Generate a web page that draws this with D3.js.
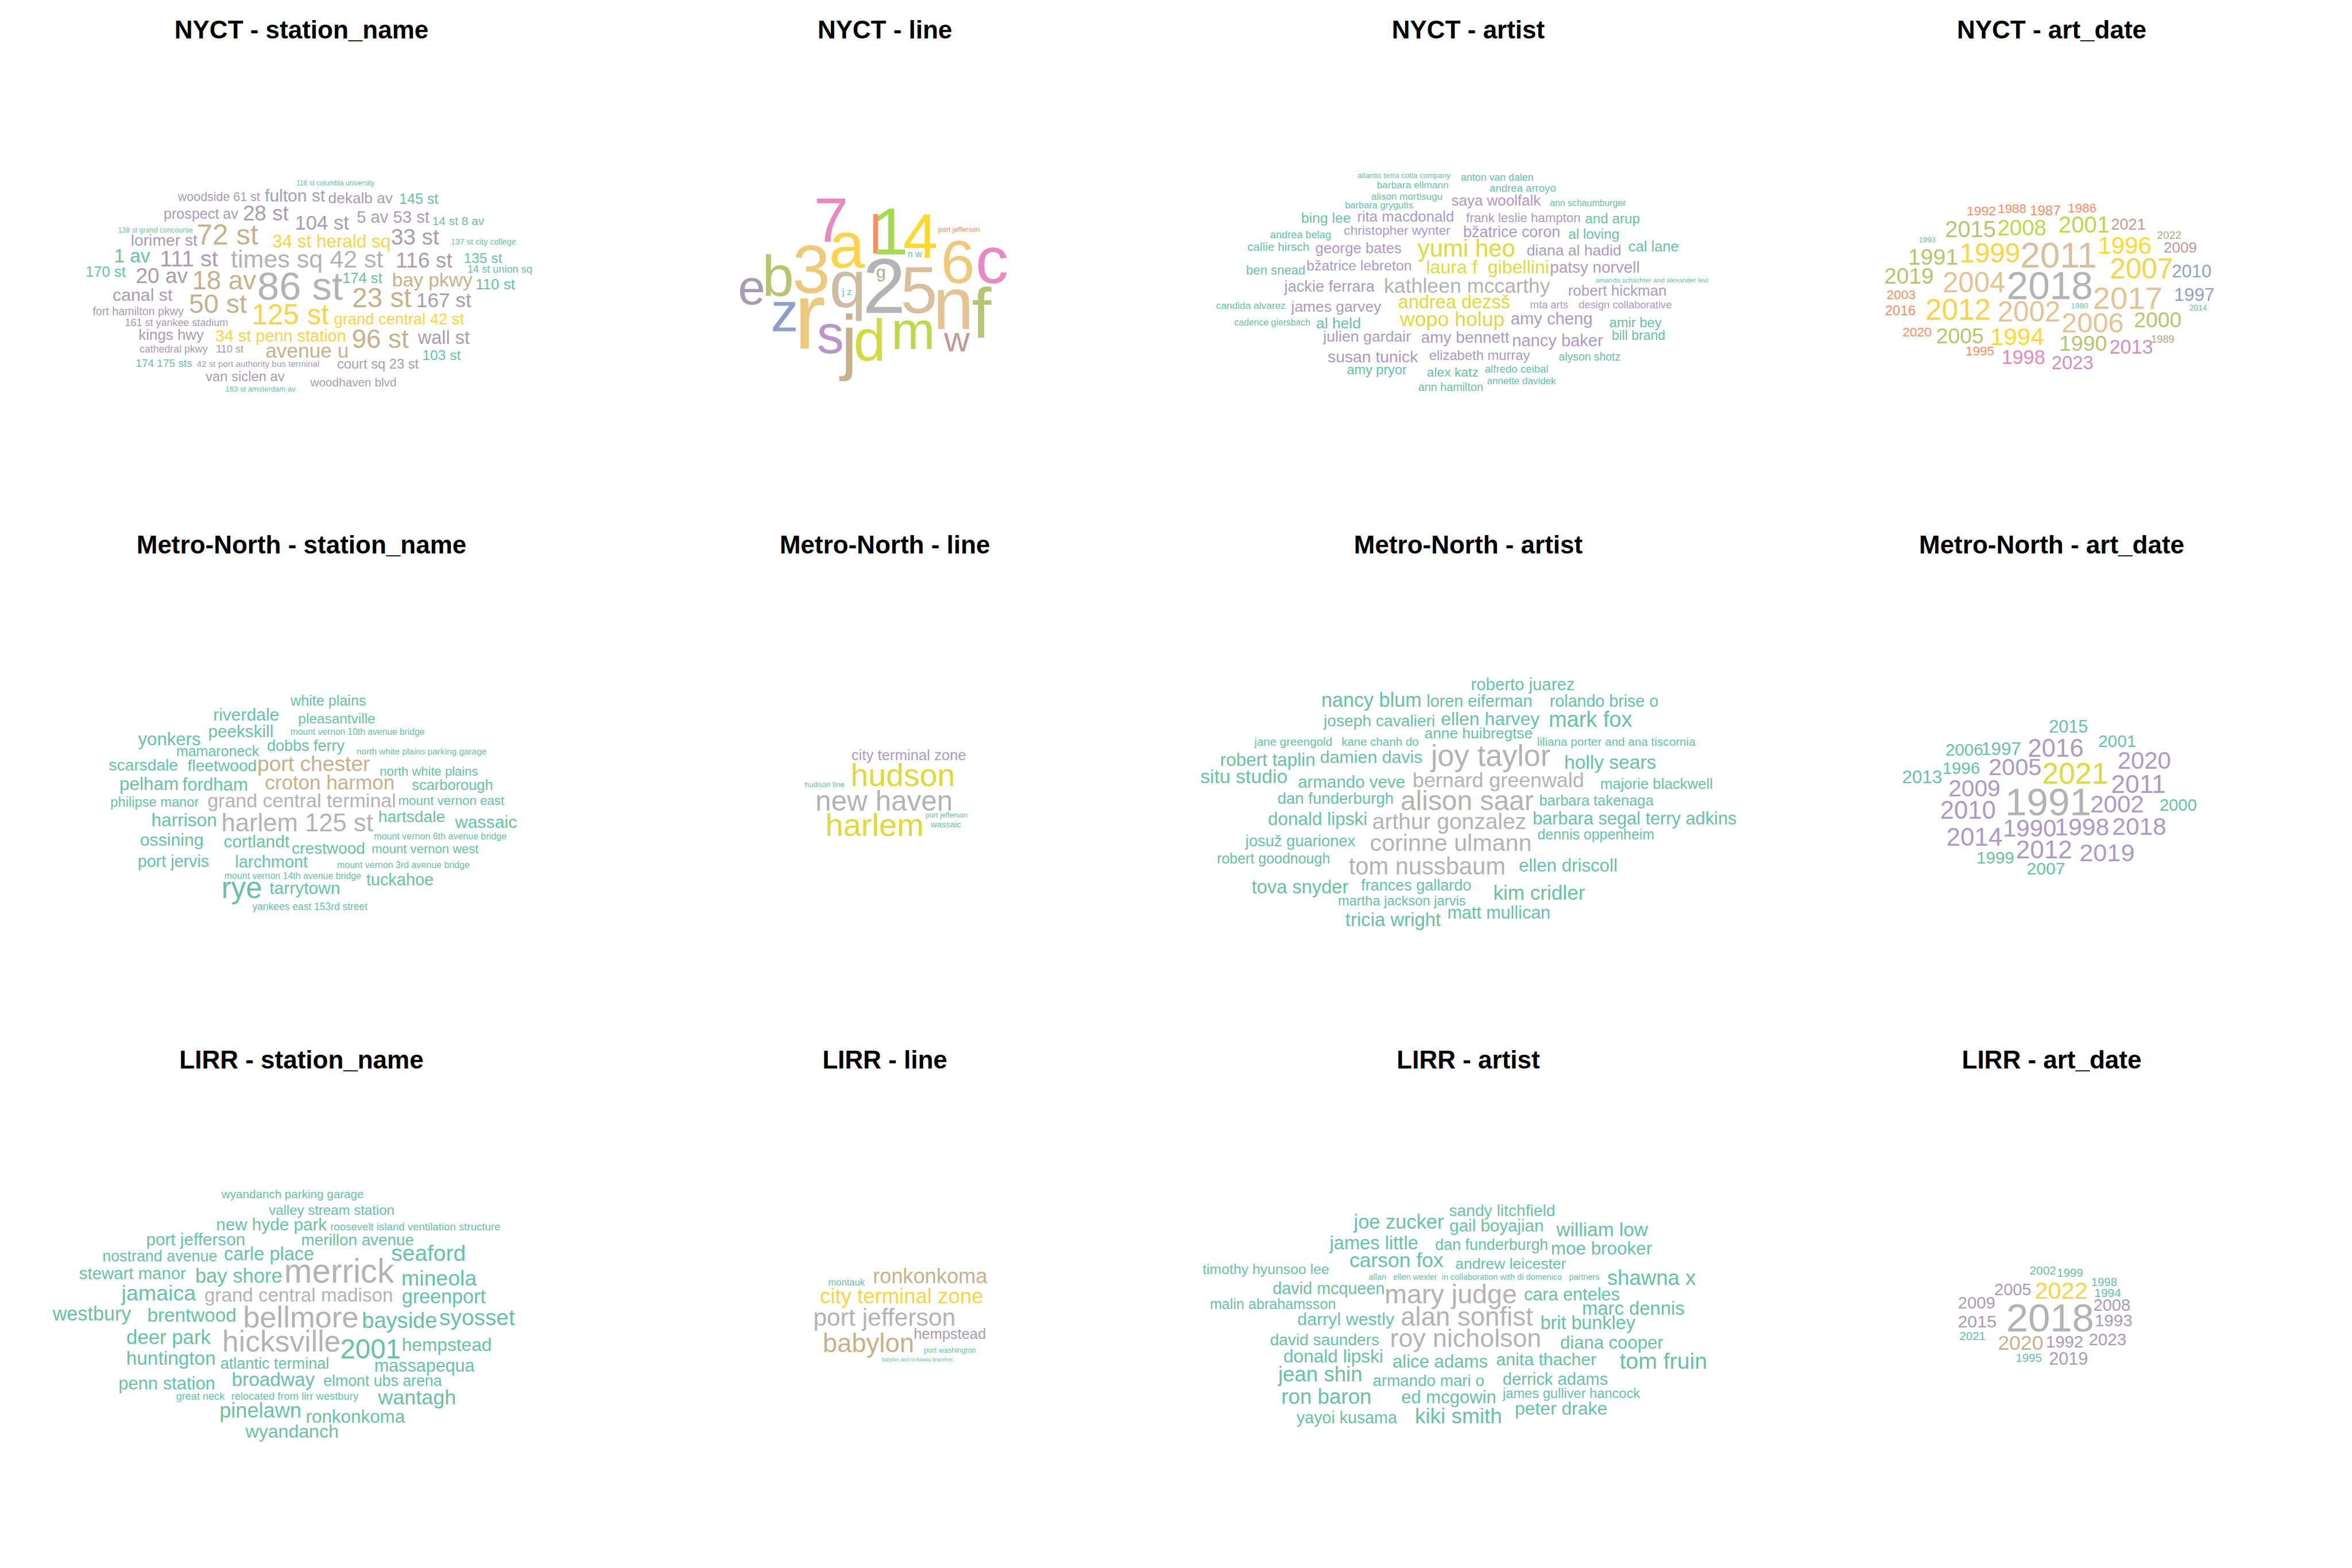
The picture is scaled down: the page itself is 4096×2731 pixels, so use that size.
<!DOCTYPE html>
<html><head><meta charset="utf-8">
<script src="https://cdn.jsdelivr.net/npm/d3@7"></script>
<style>html,body{margin:0;padding:0;background:#fff}svg{display:block}</style>
</head><body>
<script>
// Set2 palette (interpolated along its length, low count -> high count)
const set2 = ["#66c2a5","#fc8d62","#8da0cb","#e78ac3","#a6d854","#ffd92f","#e5c494","#b3b3b3"];

const systems = ["NYCT","Metro-North","LIRR"];
const fields = ["station_name","line","artist","art_date"];

// Word cloud layouts: [word, count, left, right, top, baseline] in each cloud's layout units
const nyctStation = [
["116 st columbia university",1,782,1057,57,88],["woodside 61 st",2,373,665,140,195],["fulton st",2,675,885,118,200],
["dekalb av",2,893,1118,143,213],["145 st",1,1140,1272,152,218],["prospect av",2,333,585,255,320],
["28 st",2,603,760,235,330],["104 st",2,782,968,305,393],["5 av 53 st",2,995,1240,265,348],
["14 st 8 av",1,1252,1430,307,362],["138 st grand concourse",1,170,433,380,412],["72 st",3,447,655,362,495],
["34 st herald sq",4,700,1108,432,518],["33 st",2,1110,1275,393,497],["137 st city college",1,1313,1540,457,495],
["lorimer st",2,218,448,428,505],["1 av",1,162,285,535,618],["111 st",2,320,518,545,647],
["times sq 42 st",5,556,1088,540,657],["116 st",2,1130,1320,553,655],["135 st",1,1360,1492,562,625],
["14 st union sq",1,1365,1600,650,690],["170 st",1,65,200,648,717],["20 av",2,237,413,660,760],
["18 av",3,430,650,690,805],["86 st",5,655,945,688,875],["174 st",1,945,1080,692,760],
["bay pkwy",3,1115,1390,692,785],["110 st",1,1402,1535,737,807],["canal st",2,155,362,800,883],
["23 st",3,980,1180,798,928],["167 st",2,1200,1385,832,928],["50 st",3,420,615,838,967],
["fort hamilton pkwy",2,85,400,928,983],["125 st",4,638,897,910,1045],["grand central 42 st",4,907,1368,975,1045],
["161 st yankee stadium",2,195,553,1012,1060],["kings hwy",2,242,472,1090,1155],["34 st penn station",4,505,955,1085,1165],
["96 st",3,978,1170,1085,1210],["wall st",2,1200,1380,1088,1180],["cathedral pkwy",2,242,487,1197,1240],
["110 st",2,510,605,1197,1242],["avenue u",3,678,963,1205,1275],["103 st",1,1218,1350,1228,1290],
["174 175 sts",1,233,430,1293,1340],["42 st port authority bus terminal",2,440,866,1298,1340],["court sq 23 st",2,922,1208,1290,1350],
["van siclen av",2,468,750,1380,1440],["woodhaven blvd",2,830,1128,1418,1475],["163 st amsterdam av",1,540,785,1475,1510]
];
const nyctLine = [
["7",13,500,657,135,428],["a",22,585,748,358,605],["l",5,793,820,232,510],["1",17,835,935,155,515],
["4",21,955,1118,232,535],["port jefferson",5,1130,1343,322,357],["n w",1,978,1042,498,533],
["6",24,1160,1305,415,712],["c",13,1335,1482,465,712],["e",8,110,230,675,858],["b",16,240,378,515,800],
["3",24,390,560,450,780],["q",27,578,745,635,875],["g",3,810,858,615,675],["j z",1,632,683,748,795],
["2",29,758,945,545,915],["5",26,950,1112,598,915],["n",25,1125,1290,752,1028],["f",16,1308,1400,725,1088],
["z",9,278,400,845,1045],["r",24,415,545,815,1163],["s",11,512,635,988,1192],["j",15,618,690,918,1283],
["d",19,705,842,952,1245],["m",18,905,1095,968,1165],["w",7,1160,1290,1048,1180]
];
const nyctArtist = [
["atlantic terra cotta company",1,495,800,50,83],["anton van dalen",1,825,1060,60,105],["barbara ellmann",1,560,790,108,153],
["andrea arroyo",1,915,1133,130,175],["alison mortisugu",1,540,772,188,230],["saya woolfalk",2,795,1085,200,268],
["ann schaumburger",1,1105,1357,237,275],["barbara grygutis",1,457,680,250,290],["bing lee",1,323,478,318,385],
["rita macdonald",2,498,807,310,378],["frank leslie hampton",2,843,1207,322,383],["and arup",1,1222,1395,322,388],
["christopher wynter",2,452,800,410,467],["bžatrice coron",2,835,1143,410,482],["al loving",1,1168,1330,432,495],
["andrea belag",1,218,420,448,490],["callie hirsch",1,150,347,520,575],["george bates",2,363,643,525,590],
["yumi heo",3,690,998,495,612],["diana al hadid",2,1035,1337,535,605],["cal lane",1,1360,1518,510,580],
["ben snead",1,148,333,672,733],["bžatrice lebreton",2,343,667,632,705],["laura f  gibellini",3,720,1105,635,725],
["patsy norvell",2,1108,1397,650,720],["amanda schachter and alexander levi",1,1245,1622,760,787],["jackie ferrara",2,265,555,775,850],
["kathleen mccarthy",4,578,1120,765,855],["robert hickman",2,1168,1480,805,875],["candida alvarez",1,48,275,922,965],
["james garvey",2,285,578,915,985],["andrea dezsš",3,628,985,875,962],["mta arts",2,1048,1168,918,962],
["design collaborative",2,1200,1498,913,962],["cadence giersbach",1,107,352,1037,1078],["al held",1,368,510,1030,1097],
["wopo holup",3,630,968,988,1082],["amy cheng",2,980,1250,1000,1068],["amir bey",1,1297,1467,1030,1090],
["julien gardair",2,388,670,1112,1185],["amy bennett",2,700,985,1120,1193],["nancy baker",2,993,1278,1135,1217],
["bill brand",1,1307,1475,1110,1172],["susan tunick",2,403,695,1250,1325],["elizabeth murray",2,723,1052,1250,1310],
["alyson shotz",1,1135,1337,1265,1312],["amy pryor",1,468,655,1355,1405],["alex katz",1,718,885,1365,1422],
["alfredo ceibal",1,903,1105,1345,1395],["annette davidek",1,908,1133,1430,1473],["ann hamilton",1,692,898,1465,1518]
];
const nyctArtDate = [
["1992",5,425,552,80,140],["1988",5,565,690,65,122],["1987",5,710,843,78,140],["1986",5,880,1005,58,118],
["2015",16,330,550,180,290],["2008",18,565,778,172,278],["2001",18,840,1062,148,258],["2021",7,1075,1225,165,238],
["2022",3,1282,1385,245,300],["1993",1,208,282,292,327],["1999",22,398,658,335,465],["2011",26,672,1000,325,500],
["1996",21,1020,1250,290,405],["2009",7,1312,1455,325,398],["1991",16,165,380,370,480],["2019",16,55,270,505,610],
["2004",25,318,595,540,670],["2018",29,610,985,530,715],["2007",22,1072,1345,440,575],["2010",9,1348,1522,485,568],
["2003",5,65,190,650,715],["2017",25,993,1300,645,785],["1997",9,1360,1535,645,730],["2016",5,58,190,760,827],
["2012",22,242,525,720,860],["2002",25,565,840,740,872],["1980",1,893,968,742,778],["2014",1,1425,1503,758,795],
["2006",25,855,1125,810,945],["2000",16,1180,1385,808,912],["2020",5,135,263,912,972],["2005",16,290,495,915,1020],
["1994",21,535,768,915,1033],["1990",16,845,1050,970,1073],["2013",12,1068,1258,1000,1093],["1989",3,1255,1355,968,1018],
["1995",5,420,545,1045,1105],["1998",13,585,772,1065,1162],["2023",12,808,990,1108,1198]
];
const mnStation = [
["white plains",1,718,998,45,110],["riverdale",1,445,683,130,210],["pleasantville",1,750,1030,165,230],
["peekskill",1,430,658,240,325],["mount vernon 10th avenue bridge",1,712,1217,272,310],["yonkers",1,170,402,300,380],
["mamaroneck",1,313,612,385,455],["dobbs ferry",1,640,918,345,422],["north white plains parking garage",1,955,1435,405,445],
["scarsdale",1,68,318,478,555],["fleetwood",1,353,598,478,560],["port chester",2,603,1013,460,560],
["north white plains",1,1045,1398,528,590],["pelham",1,107,320,610,690],["fordham",1,333,567,608,695],
["croton harmon",2,630,1097,588,685],["scarborough",1,1160,1450,618,690],["philipse manor",1,75,395,740,805],
["grand central terminal",3,423,1102,715,810],["mount vernon east",1,1113,1493,735,792],["harrison",1,223,457,855,940],
["harlem 125 st",3,475,1025,855,975],["hartsdale",1,1040,1280,835,912],["wassaic",1,1312,1540,868,950],
["mount vernon 6th avenue bridge",1,1018,1507,990,1032],["ossining",1,178,412,1000,1075],["cortlandt",1,482,722,1005,1085],
["crestwood",1,728,990,1052,1130],["mount vernon west",1,1018,1400,1068,1125],["port jervis",1,172,432,1145,1220],
["larchmont",1,525,787,1145,1225],["mount vernon 3rd avenue bridge",1,882,1377,1188,1228],["mount vernon 14th avenue bridge",1,478,985,1262,1303],
["tuckahoe",1,992,1240,1270,1345],["rye",1,478,620,1325,1432],["tarrytown",1,648,898,1330,1408],
["yankees east 153rd street",1,578,1008,1470,1515]
];
const mnLine = [
["city terminal zone",2,365,1205,62,120],["hudson",3,395,1092,140,298],["hudson line",1,70,342,268,307],
["new haven",4,150,1080,330,470],["port jefferson",1,905,1185,480,518],["wassaic",1,932,1146,543,583],
["harlem",3,218,878,490,645]
];
const mnArtist = [
["roberto juarez",1,783,1083,45,110],["nancy blum",1,365,645,125,208],["loren eiferman",1,657,963,145,208],
["rolando brise o",1,1005,1320,145,208],["joseph cavalieri",1,368,683,255,325],["ellen harvey",1,700,983,243,318],
["mark fox",1,1005,1245,245,330],["anne huibregtse",1,650,965,342,400],["jane greengold",1,173,393,392,443],
["kane chanh do",1,422,638,392,443],["liliana porter and ana tiscornia",1,973,1422,392,443],["robert taplin",1,77,348,493,565],
["damien davis",1,358,652,475,545],["joy taylor",2,670,1010,435,565],["holly sears",1,1048,1312,505,580],
["situ studio",1,17,272,595,668],["armando veve",1,293,605,630,695],["bernard greenwald",2,622,1105,605,692],
["majorie blackwell",1,1148,1472,642,700],["dan funderburgh",1,242,565,720,790],["alison saar",2,590,962,710,830],
["barbara takenaga",1,978,1305,740,800],["donald lipski",1,215,490,840,920],["arthur gonzalez",2,502,948,855,942],
["barbara segal terry adkins",1,960,1538,840,915],["dennis oppenheim",1,967,1310,952,1005],["josuž guarionex",1,145,462,980,1045],
["corinne ulmann",2,497,960,980,1075],["robert goodnough",1,62,395,1098,1150],["tom nussbaum",2,438,883,1115,1215],
["ellen driscoll",1,920,1200,1125,1198],["tova snyder",1,165,442,1252,1330],["frances gallardo",1,474,788,1245,1310],
["kim cridler",1,850,1110,1282,1365],["martha jackson jarvis",1,405,778,1350,1402],["matt mullican",1,718,1012,1410,1480],
["tricia wright",1,433,700,1440,1525]
];
const mnArtDate = [
["2015",1,775,968,58,140],["2001",1,1027,1212,155,238],["2006",1,248,432,215,297],["1997",1,432,625,205,292],
["2016",2,670,942,180,303],["2020",2,1128,1388,270,388],["1996",1,235,415,338,422],["2005",2,470,728,312,430],
["2021",3,745,1065,343,490],["2013",1,27,223,400,487],["2009",2,265,518,465,578],["2011",2,1095,1360,425,552],
["1991",4,565,975,515,710],["2002",2,988,1250,572,688],["2000",1,1340,1522,595,677],["2010",2,222,497,612,730],
["2014",2,255,530,795,918],["1990",2,545,805,738,855],["1998",2,808,1075,730,845],["2018",2,1100,1365,725,843],
["1999",1,408,590,958,1040],["2012",2,608,885,885,1005],["2019",2,933,1202,905,1025],["2007",1,662,850,1035,1117]
];
const lirrStation = [
["wyandanch parking garage",1,570,1043,35,83],["valley stream station",1,723,1143,128,182],["new hyde park",1,560,920,200,273],
["roosevelt island ventilation structure",1,925,1490,230,273],["port jefferson",1,328,655,295,362],["merillon avenue",1,832,1207,300,362],
["nostrand avenue",1,182,568,400,458],["carle place",1,578,883,382,450],["seaford",1,1127,1370,365,455],
["stewart manor",1,110,462,500,562],["bay shore",1,487,778,508,582],["merrick",2,785,1140,440,583],
["mineola",1,1160,1413,520,600],["jamaica",1,245,495,600,688],["grand central madison",2,515,1138,618,695],
["greenport",1,1162,1440,635,705],["westbury",1,18,288,738,810],["brentwood",1,333,625,740,815],
["bellmore",2,650,1020,722,850],["bayside",1,1035,1278,765,855],["syosset",1,1285,1533,755,838],
["deer park",1,262,547,875,950],["hicksville",2,582,962,870,995],["2001",1,967,1155,920,1035],
["hempstead",1,1162,1457,920,992],["huntington",1,265,557,995,1072],["atlantic terminal",1,567,930,1035,1095],
["massapequa",1,1077,1400,1055,1112],["penn station",1,237,558,1150,1218],["broadway",1,607,885,1125,1198],
["elmont ubs arena",1,903,1300,1140,1200],["great neck",1,427,588,1240,1282],["relocated from lirr westbury",1,608,1023,1237,1282],
["wantagh",1,1083,1338,1222,1308],["pinelawn",1,568,837,1305,1385],["ronkonkoma",1,850,1177,1345,1418],
["wyandanch",1,650,957,1430,1505]
];
const lirrLine = [
["ronkonkoma",3,478,1285,68,162],["montauk",1,178,430,130,177],["city terminal zone",4,118,1245,198,300],
["port jefferson",5,78,1048,335,455],["hempstead",2,772,1255,470,545],["babylon",3,148,758,505,635],
["port washington",1,842,1185,600,640],["babylon and rockaway branches",1,540,1040,675,698]
];
const lirrArtist = [
["sandy litchfield",1,765,1083,60,135],["joe zucker",1,475,755,135,220],["gail boyajian",1,763,1053,170,240],
["william low",1,1085,1362,180,270],["james little",1,405,675,270,355],["dan funderburgh",1,722,1065,290,358],
["moe brooker",1,1068,1378,315,392],["carson fox",1,468,752,380,472],["andrew leicester",1,780,1122,420,485],
["timothy hyunsoo lee",1,25,412,455,518],["allan   ellen wexler  in collaboration with di domenico   partners",1,518,1225,520,557],
["shawna x",1,1238,1505,495,592],["david mcqueen",1,238,575,575,650],["mary judge",2,575,970,590,712],
["cara enteles",1,985,1282,620,692],["malin abrahamsson",1,50,430,685,750],["marc dennis",1,1165,1470,700,788],
["darryl westly",1,310,608,780,855],["alan sonfist",2,620,1022,745,862],["brit bunkley",1,1040,1325,800,885],
["david saunders",1,228,562,920,990],["roy nicholson",2,590,1042,885,1002],["diana cooper",1,1098,1408,930,1012],
["donald lipski",1,272,568,1020,1105],["alice adams",1,595,885,1060,1138],["anita thacher",1,905,1210,1045,1122],
["tom fruin",1,1275,1535,1040,1145],["jean shin",1,250,508,1135,1227],["armando mari o",1,530,880,1195,1258],
["derrick adams",1,923,1245,1180,1253],["ron baron",1,263,537,1290,1378],["ed mcgowin",1,618,912,1300,1372],
["james gulliver hancock",1,925,1338,1275,1340],["peter drake",1,960,1243,1370,1447],["yayoi kusama",1,302,620,1440,1505],
["kiki smith",1,667,922,1405,1505]
];
const lirrArtDate = [
["2002",1,552,728,65,122],["1999",1,742,913,80,137],["2005",2,312,555,183,265],["2022",4,590,943,175,287],
["1998",1,978,1148,143,200],["1994",1,1000,1177,217,275],["2009",2,63,305,270,355],["2008",2,995,1237,290,372],
["2018",5,400,983,325,515],["2015",2,58,318,408,488],["1993",2,1005,1253,398,480],["2021",1,68,243,520,575],
["2020",3,335,640,545,640],["1992",2,668,913,545,625],["2023",2,960,1212,530,610],["1995",1,458,630,665,722],
["2019",2,688,945,660,745]
];

const clouds = [nyctStation, nyctLine, nyctArtist, nyctArtDate,
                mnStation, mnLine, mnArtist, mnArtDate,
                lirrStation, lirrLine, lirrArtist, lirrArtDate];

// Each cloud's layout frame: [frame x, frame y, frame w, frame h] on a 5400x3600 page, and layout extent
const frames = [
 [[155,396,1050,520],[1568,1560]], [[1650,413,700,485],[1568,1455]], [[2755,380,1135,535],[1568,1568]], [[4300,448,800,412],[1568,1236]],
 [[206,1584,1000,516],[1568,1548]], [[1825,1705,415,225],[1245,675]], [[2738,1543,1275,600],[1568,1568]], [[4357,1636,706,380],[1568,1140]],
 [[103,2720,1105,605],[1568,1568]], [[1843,2893,450,245],[1350,735]], [[2738,2745,1205,545],[1568,1568]], [[4477,2886,450,250],[1350,750]]
];

const W = 4096, H = 2731;
const page = d3.scaleLinear().domain([0, 5400]).range([0, W]);
const FONT = '"Liberation Sans", Arial, Helvetica, sans-serif';

const svg = d3.select("body").append("svg").attr("width", W).attr("height", H);
svg.append("rect").attr("width", W).attr("height", H).attr("fill", "#fff");

const colBand = d3.scaleBand().domain(fields).range([17, 4081]);
const rowTitle = d3.scalePoint().domain(systems).range([67, 1861]);

const ramp = d3.piecewise(d3.interpolateRgb, set2);
const ctx = document.createElement("canvas").getContext("2d");
ctx.font = '100px "Liberation Sans"';

clouds.forEach((words, i) => {
  const sys = systems[Math.floor(i / 4)], fld = fields[i % 4];
  svg.append("text")
    .attr("x", colBand(fld) + colBand.bandwidth() / 2)
    .attr("y", rowTitle(sys))
    .attr("text-anchor", "middle")
    .attr("font-family", FONT).attr("font-weight", "bold").attr("font-size", 44)
    .attr("fill", "#000")
    .text(sys + " - " + fld);

  const [[fx, fy, fw, fh], [lw, lh]] = frames[i];
  const x = d3.scaleLinear().domain([0, lw]).range([page(fx), page(fx + fw)]);
  const y = d3.scaleLinear().domain([0, lh]).range([page(fy), page(fy + fh)]);
  const cExt = d3.extent(words, d => d[1]);
  const color = d3.scaleLinear().domain(cExt).range([0, 1]);

  const g = svg.append("g");
  words.forEach(([text, count, x0, x1, top, base]) => {
    const m = ctx.measureText(text);
    const inkW = m.actualBoundingBoxRight + m.actualBoundingBoxLeft;
    const asc = m.actualBoundingBoxAscent;
    const tw = x(x1) - x(x0), th = y(base) - y(top);
    const fsW = 100 * tw / inkW, fsH = 100 * th / asc;
    const fs = text.length > 3 ? 0.75 * fsW + 0.25 * fsH : 0.3 * fsW + 0.7 * fsH;
    const s = fs / 100;
    const cx = (x(x0) + x(x1)) / 2;
    const tx = cx + m.actualBoundingBoxLeft * s - inkW * s / 2;
    g.append("text")
      .attr("x", tx).attr("y", y(base))
      .attr("font-family", FONT).attr("font-size", fs.toFixed(2))
      .attr("fill", ramp(color(count)))
      .style("white-space", "pre")
      .text(text);
  });
});
</script>
</body></html>
